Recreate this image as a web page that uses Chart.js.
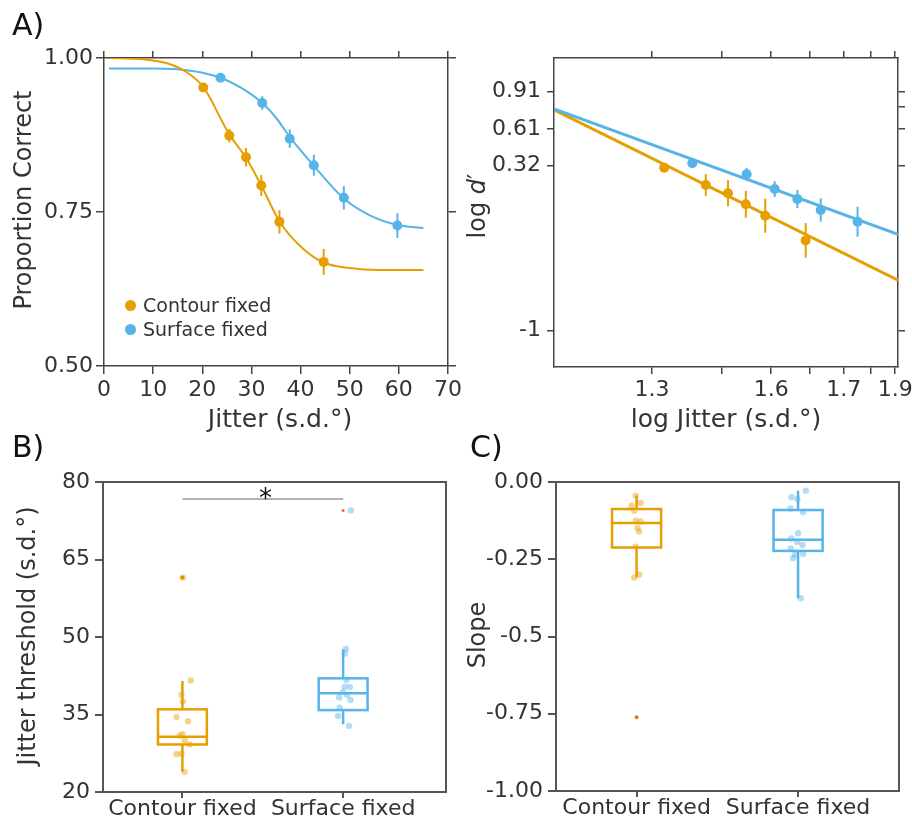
<!DOCTYPE html>
<html>
<head>
<meta charset="utf-8">
<script src="https://cdn.jsdelivr.net/npm/chart.js@4.4.1/dist/chart.umd.min.js"></script>
<style>
    html, body { margin: 0; padding: 0; background: #fff; }
    #fig { position: relative; width: 912px; height: 821px; overflow: hidden;
           font-family: 'DejaVu Sans', Verdana, sans-serif; color: #333; }
    canvas { position: absolute; }
    .txt { position: absolute; white-space: nowrap; line-height: 1; z-index: 2; }
    .title { position: absolute; white-space: nowrap; line-height: 1; font-size: 24px; z-index: 2;
             transform: translate(-50%, -50%); }
    .title.rot { transform: translate(-50%, -50%) rotate(-90deg); }
    .legend { position: absolute; font-size: 19px; z-index: 2; }
    .legend .row { display: flex; align-items: center; height: 24px; }
    .legend .dot { width: 11px; height: 11px; border-radius: 50%; margin-right: 7px; }
</style>
</head>
<body>
<div id="fig">
    <canvas id="chartA1" width="470" height="440" style="left:0;top:0"></canvas>
    <canvas id="chartA2" width="456" height="440" style="left:456px;top:0"></canvas>
    <canvas id="chartB" width="456" height="381" style="left:0;top:440px"></canvas>
    <canvas id="chartC" width="456" height="381" style="left:456px;top:440px"></canvas>

    <div class="txt" style="left:12px;top:10px;font-size:30px;color:#111">A)</div>
    <div class="txt" style="left:12px;top:432px;font-size:30px;color:#111">B)</div>
    <div class="txt" style="left:470px;top:432px;font-size:30px;color:#111">C)</div>

    <div class="title rot" style="left:23px;top:200px">Proportion Correct</div>
    <div class="title" style="left:280px;top:418px;font-size:25px">Jitter (s.d.°)</div>
    <div class="title rot" style="left:477px;top:206px">log <i>d</i>′</div>
    <div class="title" style="left:726px;top:418px;font-size:25px">log Jitter (s.d.°)</div>
    <div class="title rot" style="left:27px;top:636px">Jitter threshold (s.d.°)</div>
    <div class="title rot" style="left:477px;top:635px">Slope</div>
    <div class="txt" style="left:259px;top:485px;font-size:26px;color:#111">*</div>

    <div class="legend" style="left:125px;top:293px">
        <div class="row"><span class="dot" style="background:#E69F00"></span>Contour fixed</div>
        <div class="row"><span class="dot" style="background:#56B4E9"></span>Surface fixed</div>
    </div>
</div>

<script>
const ORANGE = '#E69F00';
const BLUE = '#56B4E9';
const ORANGE_FADE = 'rgba(230, 159, 0, 0.45)';
const BLUE_FADE = 'rgba(86, 180, 233, 0.45)';
const AXIS = '#444';
const TEXT = '#333';
const FONT = "'DejaVu Sans', Verdana, sans-serif";

// A) left: proportion correct against jitter
const contourJitter = [20.2, 25.5, 28.9, 32.0, 35.7, 44.7];
const contourCorrect = [0.952, 0.874, 0.839, 0.793, 0.734, 0.669];
const contourCorrectErr = [0.007, 0.011, 0.015, 0.017, 0.019, 0.021];
const surfaceJitter = [23.7, 32.2, 37.8, 42.7, 48.8, 59.7];
const surfaceCorrect = [0.968, 0.927, 0.869, 0.826, 0.773, 0.728];
const surfaceCorrectErr = [0.005, 0.011, 0.015, 0.017, 0.019, 0.020];

// fitted psychometric curves
const contourCurveX = [1, 8, 13, 17, 20.2, 25.5, 28.9, 32, 35.7, 40, 44.7, 50, 56, 65];
const contourCurveY = [1.0, 0.998, 0.991, 0.976, 0.953, 0.876, 0.838, 0.793, 0.735, 0.694, 0.668, 0.659, 0.656, 0.656];
const surfaceCurveX = [1, 10, 18, 23.7, 28, 32.2, 35, 37.8, 42.7, 48.8, 54, 59.7, 65];
const surfaceCurveY = [0.983, 0.983, 0.979, 0.968, 0.951, 0.927, 0.903, 0.872, 0.825, 0.772, 0.745, 0.729, 0.724];

const jitterTicks = [0, 10, 20, 30, 40, 50, 60, 70];
const correctTicks = [0.5, 0.75, 1.0];
const correctLabels = ['0.50', '0.75', '1.00'];

// A) right: log d' against log jitter
const contourLogJitter = [1.332, 1.437, 1.493, 1.538, 1.587, 1.689];
const contourLogD = [0.301, 0.162, 0.096, 0.008, -0.084, -0.281];
const contourLogDErr = [0.03, 0.087, 0.104, 0.107, 0.136, 0.138];
const surfaceLogJitter = [1.403, 1.540, 1.611, 1.668, 1.727, 1.820];
const surfaceLogD = [0.336, 0.248, 0.130, 0.050, -0.038, -0.132];
const surfaceLogDErr = [0.03, 0.05, 0.063, 0.073, 0.093, 0.12];
const fitLogJitter = [1.054, 1.922];
const contourFitLogD = [0.763, -0.599];
const surfaceFitLogD = [0.771, -0.233];

const logJitterTicks = [1.301, 1.477, 1.602, 1.699, 1.785, 1.852, 1.915];
const logJitterLabels = ['1.3', '', '1.6', '', '1.7', '', '1.9'];
const logDTicks = [-1, 0.32, 0.61, 0.91];
const logDLabels = ['-1', '0.32', '0.61', '0.91'];
const logDRightTicks = [-1, 0.32, 0.61, 0.79, 0.91];

// B) jitter thresholds
const conditions = ['Contour fixed', 'Surface fixed'];
const thresholdLow = [23.9, 33.1];
const thresholdQ1 = [29.2, 35.85];
const thresholdMedian = [30.7, 39.1];
const thresholdQ3 = [36.0, 42.0];
const thresholdHigh = [41.5, 47.6];
const thresholdOutliers = [[61.5], [74.5]];
const contourThresholds = [41.6, 38.8, 37.5, 34.5, 33.7, 31.2, 30.9, 30.0, 29.2, 27.3, 27.4, 23.9, 61.5];
const contourThresholdJitter = [0.052, -0.006, 0.004, -0.037, 0.035, 0, -0.017, 0.014, 0.045, -0.037, -0.006, 0.014, 0.002];
const surfaceThresholds = [74.5, 47.7, 46.8, 41.7, 40.4, 40.3, 39.4, 38.8, 38.3, 37.8, 36.3, 34.7, 32.8];
const surfaceThresholdJitter = [0.048, 0.017, 0.011, 0.021, 0.011, 0.042, 0, 0.025, -0.025, 0.046, -0.021, -0.031, 0.037];
const thresholdTicks = [20, 35, 50, 65, 80];
const significance = { from: 0, to: 1, y: 76.7 };

// C) slopes
const slopeLow = [-0.308, -0.376];
const slopeQ1 = [-0.212, -0.223];
const slopeMedian = [-0.133, -0.187];
const slopeQ3 = [-0.0875, -0.0907];
const slopeHigh = [-0.044, -0.028];
const slopeOutliers = [[-0.761], []];
const contourSlopes = [-0.044, -0.068, -0.077, -0.093, -0.125, -0.128, -0.149, -0.160, -0.209, -0.300, -0.309];
const contourSlopeJitter = [-0.006, 0.025, -0.031, -0.015, -0.004, 0.025, 0.006, 0.016, -0.006, 0.016, -0.015];
const surfaceSlopes = [-0.028, -0.055, -0.049, -0.086, -0.097, -0.166, -0.183, -0.194, -0.204, -0.215, -0.233, -0.235, -0.247, -0.376];
const surfaceSlopeJitter = [0.048, -0.004, -0.041, -0.047, 0.031, 0, -0.041, -0.006, 0.027, -0.045, 0.031, -0.02, -0.031, 0.017];
const slopeTicks = [-1, -0.75, -0.5, -0.25, 0];
const slopeLabels = ['-1.00', '-0.75', '-0.5', '-0.25', '0.00'];

const BOX_HALF_WIDTH = 0.152;
const CONDITION_COLORS = [ORANGE, BLUE];
const OUTLIER_COLORS = ['rgba(224, 118, 10, 0.95)', '#ff5a5a'];

function fixed(size) {
    return (scale) => {
        if (scale.isHorizontal()) {
            scale.height = size;
        } else {
            scale.width = size;
        }
        scale.paddingLeft = 0;
        scale.paddingRight = 0;
        scale.paddingTop = 0;
        scale.paddingBottom = 0;
    };
}

function axis({ position, min, max, ticks, labels, size, tickLength = 8, lineWidth = 1.5, color = AXIS, pad = 4, marks = true }) {
    const tickOpts = {
        display: Boolean(labels),
        padding: pad,
        color: TEXT,
        autoSkip: false,
        maxRotation: 0,
        minRotation: 0,
        font: { family: FONT, size: 22, lineHeight: 1 },
    };
    if (labels) {
        tickOpts.callback = (value, index) => labels[index];
    }
    return {
        type: 'linear',
        position,
        min,
        max,
        afterBuildTicks: (scale) => {
            scale.ticks = ticks.map((value) => ({ value }));
        },
        afterFit: fixed(size),
        grid: { display: marks, drawOnChartArea: false, drawTicks: marks, tickLength, color, lineWidth },
        border: { display: true, color, width: lineWidth },
        ticks: tickOpts,
    };
}

function points(xs, ys) {
    return xs.map((x, i) => ({ x, y: ys[i] }));
}

const errorBars = {
    id: 'errorBars',
    afterDatasetsDraw(chart) {
        const { ctx } = chart;
        const y = chart.scales.y;
        chart.data.datasets.forEach((ds, i) => {
            if (!ds.errors) {
                return;
            }
            const meta = chart.getDatasetMeta(i);
            ctx.save();
            ctx.strokeStyle = ds.borderColor;
            ctx.lineWidth = 2;
            meta.data.forEach((pt, j) => {
                const v = ds.data[j].y;
                const e = ds.errors[j];
                ctx.beginPath();
                ctx.moveTo(pt.x, y.getPixelForValue(v + e));
                ctx.lineTo(pt.x, y.getPixelForValue(v - e));
                ctx.stroke();
            });
            ctx.restore();
        });
    },
};

function boxPlot(stats) {
    return {
        id: 'boxPlot',
        beforeDatasetsDraw(chart) {
            const { ctx, scales: { x, y } } = chart;
            ctx.save();
            ctx.lineWidth = 2.5;
            stats.forEach((s, i) => {
                const left = x.getPixelForValue(i - BOX_HALF_WIDTH);
                const right = x.getPixelForValue(i + BOX_HALF_WIDTH);
                const mid = x.getPixelForValue(i);
                const q1 = y.getPixelForValue(s.q1);
                const q3 = y.getPixelForValue(s.q3);
                const med = y.getPixelForValue(s.median);
                ctx.strokeStyle = s.color;
                ctx.beginPath();
                ctx.moveTo(mid, y.getPixelForValue(s.high));
                ctx.lineTo(mid, q3);
                ctx.moveTo(mid, q1);
                ctx.lineTo(mid, y.getPixelForValue(s.low));
                ctx.stroke();
                ctx.strokeRect(left, q3, right - left, q1 - q3);
                ctx.beginPath();
                ctx.moveTo(left, med);
                ctx.lineTo(right, med);
                ctx.stroke();
            });
            ctx.restore();
        },
    };
}

const significanceBar = {
    id: 'significanceBar',
    afterDatasetsDraw(chart) {
        const { ctx, scales: { x, y } } = chart;
        const py = y.getPixelForValue(significance.y);
        ctx.save();
        ctx.strokeStyle = '#999';
        ctx.lineWidth = 1.5;
        ctx.beginPath();
        ctx.moveTo(x.getPixelForValue(significance.from), py);
        ctx.lineTo(x.getPixelForValue(significance.to), py);
        ctx.stroke();
        ctx.restore();
    },
};

const baseOptions = {
    responsive: false,
    animation: false,
    events: [],
    layout: { padding: 0 },
    plugins: { legend: { display: false }, tooltip: { enabled: false } },
};

// ---- A) left
new Chart(document.getElementById('chartA1'), {
    type: 'scatter',
    data: {
        datasets: [
            { type: 'line', data: points(contourCurveX, contourCurveY), borderColor: ORANGE, borderWidth: 2, pointRadius: 0, showLine: true, cubicInterpolationMode: 'monotone' },
            { type: 'line', data: points(surfaceCurveX, surfaceCurveY), borderColor: BLUE, borderWidth: 2, pointRadius: 0, showLine: true, cubicInterpolationMode: 'monotone' },
            { data: points(contourJitter, contourCorrect), errors: contourCorrectErr, borderColor: ORANGE, backgroundColor: ORANGE, pointRadius: 5, pointBorderWidth: 0 },
            { data: points(surfaceJitter, surfaceCorrect), errors: surfaceCorrectErr, borderColor: BLUE, backgroundColor: BLUE, pointRadius: 5, pointBorderWidth: 0 },
        ],
    },
    options: {
        ...baseOptions,
        scales: {
            x: axis({ position: 'bottom', min: 0, max: 70, ticks: jitterTicks, labels: jitterTicks.map(String), size: 74, pad: 5 }),
            x2: axis({ position: 'top', min: 0, max: 70, ticks: jitterTicks, size: 58, tickLength: 7 }),
            y: axis({ position: 'left', min: 0.5, max: 1.0, ticks: correctTicks, labels: correctLabels, size: 104, pad: 3 }),
            y2: axis({ position: 'right', min: 0.5, max: 1.0, ticks: correctTicks, size: 22 }),
        },
    },
    plugins: [errorBars],
});

// ---- A) right
new Chart(document.getElementById('chartA2'), {
    type: 'scatter',
    data: {
        datasets: [
            { type: 'line', data: points(fitLogJitter, surfaceFitLogD), borderColor: BLUE, borderWidth: 3, pointRadius: 0, showLine: true },
            { type: 'line', data: points(fitLogJitter, contourFitLogD), borderColor: ORANGE, borderWidth: 3, pointRadius: 0, showLine: true },
            { data: points(contourLogJitter, contourLogD), errors: contourLogDErr, borderColor: ORANGE, backgroundColor: ORANGE, pointRadius: 5, pointBorderWidth: 0 },
            { data: points(surfaceLogJitter, surfaceLogD), errors: surfaceLogDErr, borderColor: BLUE, backgroundColor: BLUE, pointRadius: 5, pointBorderWidth: 0 },
        ],
    },
    options: {
        ...baseOptions,
        scales: {
            x: axis({ position: 'bottom', min: 1.054, max: 1.922, ticks: logJitterTicks, labels: logJitterLabels, size: 73, pad: 5, tickLength: 7 }),
            x2: axis({ position: 'top', min: 1.054, max: 1.922, ticks: logJitterTicks, size: 58, tickLength: 7 }),
            y: axis({ position: 'left', min: -1.294, max: 1.178, ticks: logDTicks, labels: logDLabels, size: 98, pad: 6, tickLength: 7 }),
            y2: axis({ position: 'right', min: -1.294, max: 1.178, ticks: logDRightTicks, size: 14, tickLength: 7 }),
        },
    },
    plugins: [errorBars],
});

// ---- B) and C) box plots
function statsFor(low, q1, median, q3, high) {
    return conditions.map((name, i) => ({
        name, low: low[i], q1: q1[i], median: median[i], q3: q3[i], high: high[i], color: CONDITION_COLORS[i],
    }));
}

function outlierPoints(outliers) {
    return outliers.flatMap((values, i) => values.map((y) => ({ x: i, y })));
}

function boxChart(id, cfg) {
    const outliers = outlierPoints(cfg.outliers);
    const datasets = [
        { data: cfg.contour.map((y, j) => ({ x: 0 + cfg.contourJitter[j], y })), backgroundColor: ORANGE_FADE, pointRadius: 3.2, pointBorderWidth: 0 },
        { data: cfg.surface.map((y, j) => ({ x: 1 + cfg.surfaceJitter[j], y })), backgroundColor: BLUE_FADE, pointRadius: 3.2, pointBorderWidth: 0 },
        {
            data: outliers,
            backgroundColor: outliers.map((p) => OUTLIER_COLORS[p.x]),
            pointRadius: outliers.map((p) => (p.x === 0 ? 2 : 1.5)),
            pointBorderWidth: 0,
        },
    ];
    return new Chart(document.getElementById(id), {
        type: 'scatter',
        data: { datasets },
        options: {
            ...baseOptions,
            scales: {
                x: axis({ position: 'bottom', min: cfg.xMin, max: cfg.xMax, ticks: [0, 1], labels: conditions, size: 381 - cfg.bottom, tickLength: 6, lineWidth: 2, color: '#555', pad: 0 }),
                x2: axis({ position: 'top', min: cfg.xMin, max: cfg.xMax, ticks: [0, 1], size: 42, lineWidth: 2, color: '#555', marks: false }),
                y: axis({ position: 'left', min: cfg.yMin, max: cfg.yMax, ticks: cfg.yTicks, labels: cfg.yLabels, size: cfg.left, tickLength: 8, lineWidth: 2, color: '#555', pad: 5 }),
                y2: axis({ position: 'right', min: cfg.yMin, max: cfg.yMax, ticks: cfg.yTicks, size: 456 - cfg.right, lineWidth: 2, color: '#555', marks: false }),
            },
        },
        plugins: cfg.plugins,
    });
}

boxChart('chartB', {
    contour: contourThresholds, contourJitter: contourThresholdJitter,
    surface: surfaceThresholds, surfaceJitter: surfaceThresholdJitter,
    outliers: thresholdOutliers,
    xMin: -0.494, xMax: 1.64, yMin: 20, yMax: 80,
    yTicks: thresholdTicks, yLabels: thresholdTicks.map(String),
    left: 103, right: 446, bottom: 352,
    plugins: [boxPlot(statsFor(thresholdLow, thresholdQ1, thresholdMedian, thresholdQ3, thresholdHigh)), significanceBar],
});

boxChart('chartC', {
    contour: contourSlopes, contourJitter: contourSlopeJitter,
    surface: surfaceSlopes, surfaceJitter: surfaceSlopeJitter,
    outliers: slopeOutliers,
    xMin: -0.499, xMax: 1.625, yMin: -1, yMax: 0,
    yTicks: slopeTicks, yLabels: slopeLabels,
    left: 100, right: 443, bottom: 351,
    plugins: [boxPlot(statsFor(slopeLow, slopeQ1, slopeMedian, slopeQ3, slopeHigh))],
});
</script>
</body>
</html>
